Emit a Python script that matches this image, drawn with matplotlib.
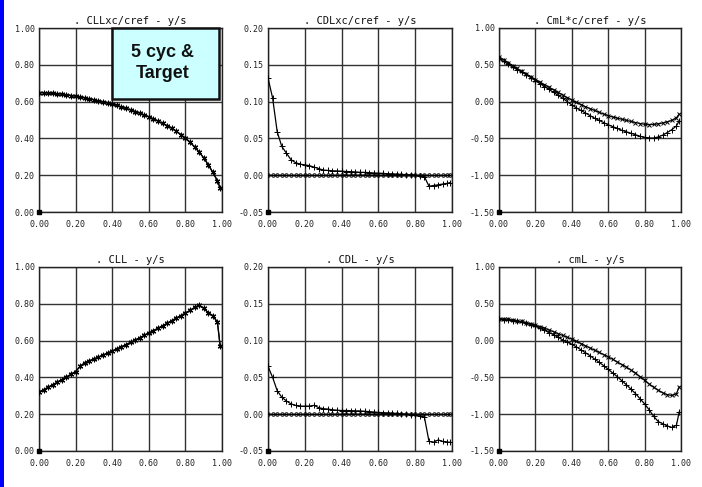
import matplotlib
matplotlib.use("Agg")
import numpy as np
from matplotlib import pyplot as plt
from matplotlib.patches import Rectangle

# spanwise stations y/s
eta = [0.00, 0.025, 0.05, 0.075, 0.10, 0.125, 0.15, 0.175, 0.20, 0.225,
       0.25, 0.275, 0.30, 0.325, 0.35, 0.375, 0.40, 0.425, 0.45, 0.475,
       0.50, 0.525, 0.55, 0.575, 0.60, 0.625, 0.65, 0.675, 0.70, 0.725,
       0.75, 0.775, 0.80, 0.825, 0.85, 0.875, 0.90, 0.925, 0.95, 0.975, 0.99]

# CLL*c/cref (5 cycles and target lie on top of each other)
cllc = [0.648, 0.648, 0.647, 0.645, 0.643, 0.640, 0.637, 0.633, 0.629, 0.625,
        0.620, 0.615, 0.610, 0.604, 0.598, 0.592, 0.586, 0.579, 0.571, 0.563,
        0.555, 0.546, 0.537, 0.527, 0.517, 0.506, 0.494, 0.482, 0.469, 0.455,
        0.439, 0.421, 0.401, 0.379, 0.354, 0.326, 0.294, 0.257, 0.215, 0.170, 0.130]

# CDL*c/cref
cdlc = [0.132, 0.105, 0.059, 0.039, 0.030, 0.021, 0.017, 0.015, 0.014, 0.013,
        0.011, 0.009, 0.007, 0.0065, 0.006, 0.0058, 0.0055, 0.005, 0.0048, 0.0045,
        0.004, 0.0038, 0.0035, 0.003, 0.0028, 0.0025, 0.002, 0.0018, 0.0015, 0.001,
        0.0008, 0.0005, 0.0, -0.001, -0.002, -0.015, -0.014, -0.013, -0.012, -0.011, -0.010]
cdlc_target = [0.0] * 41

# CmL*c/cref
cmlc_a = [0.61, 0.57, 0.53, 0.49, 0.45, 0.41, 0.375, 0.34, 0.30, 0.265,
          0.23, 0.195, 0.16, 0.125, 0.09, 0.055, 0.02, -0.01, -0.04, -0.07,
          -0.095, -0.12, -0.145, -0.17, -0.19, -0.21, -0.225, -0.24, -0.255, -0.27,
          -0.285, -0.298, -0.308, -0.312, -0.31, -0.302, -0.29, -0.275, -0.255, -0.22, -0.17]
cmlc_b = [0.58, 0.545, 0.51, 0.47, 0.435, 0.40, 0.365, 0.325, 0.285, 0.245,
          0.205, 0.165, 0.125, 0.085, 0.045, 0.0, -0.045, -0.085, -0.12, -0.155,
          -0.19, -0.225, -0.255, -0.285, -0.315, -0.34, -0.365, -0.39, -0.41, -0.43,
          -0.45, -0.47, -0.485, -0.495, -0.495, -0.48, -0.455, -0.42, -0.38, -0.33, -0.26]

# CLL
cll = [0.320, 0.333, 0.346, 0.360, 0.374, 0.388, 0.402, 0.417, 0.432, 0.460,
       0.480, 0.490, 0.500, 0.510, 0.521, 0.532, 0.543, 0.554, 0.566, 0.578,
       0.590, 0.602, 0.615, 0.628, 0.641, 0.654, 0.667, 0.680, 0.694, 0.708,
       0.722, 0.736, 0.750, 0.764, 0.780, 0.792, 0.775, 0.752, 0.735, 0.700, 0.570]

# CDL
cdl = [0.065, 0.050, 0.032, 0.023, 0.018, 0.014, 0.012, 0.011, 0.011, 0.011,
       0.012, 0.009, 0.0075, 0.007, 0.006, 0.0055, 0.005, 0.005, 0.0048, 0.0046,
       0.0045, 0.004, 0.0035, 0.003, 0.0025, 0.002, 0.0018, 0.0015, 0.001, 0.0005,
       0.0, -0.0005, -0.001, -0.003, -0.004, -0.037, -0.038, -0.035, -0.037, -0.038, -0.038]
cdl_target = [0.0] * 41

# cmL
cml_a = [0.30, 0.295, 0.29, 0.28, 0.27, 0.26, 0.245, 0.23, 0.21, 0.19,
         0.17, 0.145, 0.12, 0.095, 0.07, 0.045, 0.02, -0.01, -0.04, -0.07,
         -0.10, -0.13, -0.16, -0.19, -0.22, -0.255, -0.29, -0.325, -0.36, -0.40,
         -0.44, -0.49, -0.54, -0.59, -0.635, -0.675, -0.71, -0.735, -0.745, -0.72, -0.63]
cml_b = [0.29, 0.285, 0.28, 0.27, 0.26, 0.25, 0.235, 0.215, 0.195, 0.17,
         0.14, 0.11, 0.08, 0.045, 0.01, -0.02, -0.05, -0.085, -0.125, -0.165,
         -0.205, -0.25, -0.295, -0.34, -0.39, -0.44, -0.49, -0.545, -0.60, -0.66,
         -0.72, -0.79, -0.86, -0.94, -1.03, -1.10, -1.13, -1.16, -1.18, -1.15, -0.97]

x_ticks = [0.0, 0.2, 0.4, 0.6, 0.8, 1.0]
cl_ticks = [0.0, 0.2, 0.4, 0.6, 0.8, 1.0]
cd_ticks = [-0.05, 0.0, 0.05, 0.10, 0.15, 0.20]
cm_ticks = [-1.5, -1.0, -0.5, 0.0, 0.5, 1.0]

asterisk = (6, 2, 0)
mono = "DejaVu Sans Mono"

fig = plt.figure(figsize=(7.02, 4.87), dpi=100)

# blue strip down the left edge
fig.patches.append(Rectangle((0, 0), 4 / 702, 1, transform=fig.transFigure,
                             facecolor="#0000ff", edgecolor="none"))

lefts = [39 / 702, 268 / 702, 499 / 702]
widths = [183 / 702, 184 / 702, 182 / 702]
bottoms = [1 - 212 / 487, 1 - 451 / 487]
height = 184 / 487


def setup(ax, title, yticks):
    ax.set_xlim(0, 1)
    ax.set_ylim(yticks[0], yticks[-1])
    ax.set_xticks(x_ticks)
    ax.set_yticks(yticks)
    ax.set_xticklabels(["%.2f" % t for t in x_ticks])
    ax.set_yticklabels(["%.2f" % t for t in yticks])
    ax.tick_params(length=0, labelsize=6, colors="#222222")
    ax.tick_params(axis="x", pad=6)
    ax.tick_params(axis="y", pad=3)
    for lab in ax.get_xticklabels() + ax.get_yticklabels():
        lab.set_family(mono)
    ax.grid(True, color="#333333", linewidth=1.0)
    for sp in ax.spines.values():
        sp.set_color("#222222")
        sp.set_linewidth(1.0)
    ax.set_title(". " + title, fontsize=7.5, family=mono, pad=3, color="#111111")
    # corner marker at the origin
    ax.plot([0], [yticks[0]], "s", color="k", ms=2.5, clip_on=False, zorder=5)


def curve(ax, y, marker, ms=4):
    ax.plot(eta, y, color="k", lw=0.9, marker=marker, ms=ms, mew=0.7,
            mfc="none", mec="k", zorder=4)


# top row
ax = fig.add_axes([lefts[0], bottoms[0], widths[0], height])
setup(ax, "CLLxc/cref - y/s", cl_ticks)
curve(ax, cllc, "x", 3.5)
curve(ax, cllc, asterisk, 4)
ax.add_patch(Rectangle((0.40, 0.615), 0.585, 0.385, facecolor="#ccffff",
                       edgecolor="#111111", linewidth=1.8, zorder=9,
                       clip_on=False))
ax.text(0.675, 0.81, "5 cyc &\nTarget", ha="center", va="center",
        fontsize=13, fontweight="bold", family="Liberation Sans",
        linespacing=1.3, zorder=10, color="#111111")

ax = fig.add_axes([lefts[1], bottoms[0], widths[1], height])
setup(ax, "CDLxc/cref - y/s", cd_ticks)
curve(ax, cdlc_target, "o", 2.5)
curve(ax, cdlc, "+", 5)

ax = fig.add_axes([lefts[2], bottoms[0], widths[2], height])
setup(ax, "CmL*c/cref - y/s", cm_ticks)
curve(ax, cmlc_a, "x", 3.5)
curve(ax, cmlc_b, "+", 4.5)

# bottom row
ax = fig.add_axes([lefts[0], bottoms[1], widths[0], height])
setup(ax, "CLL - y/s", cl_ticks)
curve(ax, cll, "x", 3.5)
curve(ax, cll, asterisk, 4)

ax = fig.add_axes([lefts[1], bottoms[1], widths[1], height])
setup(ax, "CDL - y/s", cd_ticks)
curve(ax, cdl_target, "o", 2.5)
curve(ax, cdl, "+", 5)

ax = fig.add_axes([lefts[2], bottoms[1], widths[2], height])
setup(ax, "cmL - y/s", cm_ticks)
curve(ax, cml_a, "x", 3.5)
curve(ax, cml_b, "+", 4.5)

fig.savefig("out.png", dpi=100, facecolor="white")
